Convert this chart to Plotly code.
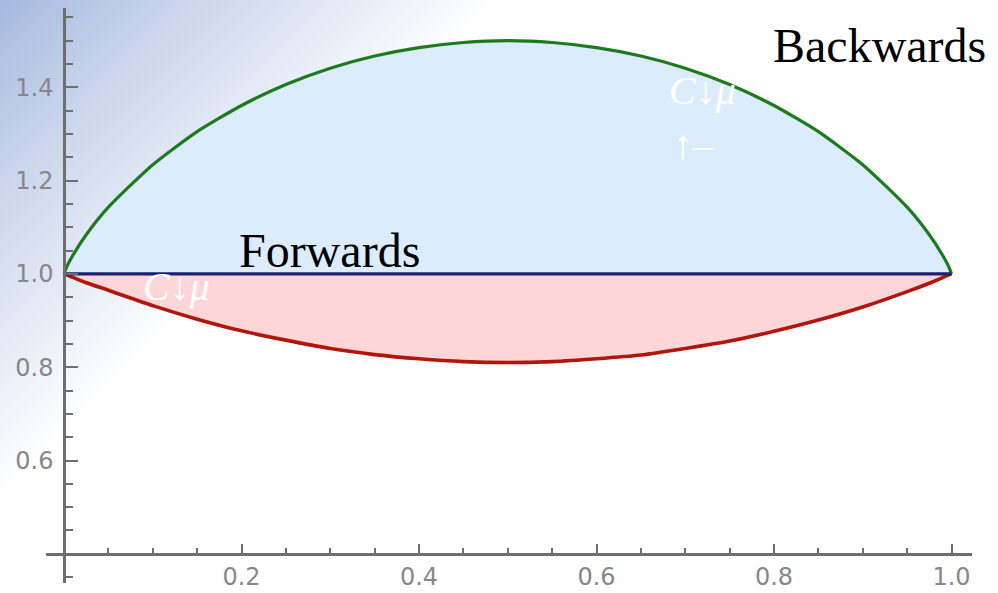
import base64
import plotly.graph_objects as go

# Sample points along the unit interval
x_vals = [0.0, 0.003, 0.01, 0.025, 0.05, 0.1, 0.15, 0.2, 0.25, 0.3, 0.35, 0.4, 0.45, 0.5,
          0.55, 0.6, 0.65, 0.7, 0.75, 0.8, 0.85, 0.9, 0.95, 0.975, 0.99, 0.997, 1.0]

# Upper (green) curve
backwards_y = [1.0, 1.015, 1.040, 1.084, 1.143, 1.234, 1.305, 1.361, 1.406, 1.441, 1.467, 1.485, 1.496, 1.500,
               1.496, 1.485, 1.467, 1.441, 1.406, 1.361, 1.305, 1.234, 1.143, 1.084, 1.040, 1.015, 1.0]

# Flat (navy) line
forwards_y = [1.0] * len(x_vals)

# Lower (red) curve
lower_y = [1.0, 0.998, 0.9925, 0.981, 0.965, 0.932, 0.903, 0.878, 0.858, 0.840, 0.827, 0.818, 0.812, 0.810,
           0.812, 0.818, 0.826, 0.840, 0.856, 0.877, 0.901, 0.929, 0.962, 0.980, 0.992, 0.998, 1.0]

x_tick_vals = [0.2, 0.4, 0.6, 0.8, 1.0]
x_tick_text = ["0.2", "0.4", "0.6", "0.8", "1.0"]
y_tick_vals = [0.6, 0.8, 1.0, 1.2, 1.4]
y_tick_text = ["0.6", "0.8", "1.0", "1.2", "1.4"]

W, H = 998, 593
ML, MR, MT, MB = 46, 26, 8, 10
PW, PH = W - ML - MR, H - MT - MB

XR = [-0.0203, 1.0231]
YR = [0.3374, 1.570]
X_CROSS, Y_CROSS = 0.0, 0.4

AX = "#6e6e6e"
TICKFONT = dict(family="DejaVu Sans", size=24, color="#888888")

GREEN = "#1e7a1e"
NAVY = "#1a2070"
RED = "#b0160c"
BLUE_FILL = "#dcecfc"
PINK_FILL = "#ffd6d8"

fig = go.Figure()

# light-blue region between the flat line and the upper curve
fig.add_trace(go.Scatter(x=x_vals, y=forwards_y, mode="lines", line=dict(width=0), hoverinfo="skip"))
fig.add_trace(go.Scatter(x=x_vals, y=backwards_y, mode="lines", fill="tonexty", fillcolor=BLUE_FILL,
                         line=dict(color=GREEN, width=3.2, shape="spline", smoothing=0.6), hoverinfo="skip"))

# pink region between the flat line and the lower curve
fig.add_trace(go.Scatter(x=x_vals, y=forwards_y, mode="lines", line=dict(width=0), hoverinfo="skip"))
fig.add_trace(go.Scatter(x=x_vals, y=lower_y, mode="lines", fill="tonexty", fillcolor=PINK_FILL,
                         line=dict(color=RED, width=3.6, shape="spline", smoothing=0.6), hoverinfo="skip"))

# flat line drawn on top
fig.add_trace(go.Scatter(x=x_vals, y=forwards_y, mode="lines", line=dict(color=NAVY, width=3.4), hoverinfo="skip"))

# page background: soft blue wash from the top-left corner
svg = (
    f'<svg xmlns="http://www.w3.org/2000/svg" width="{W}" height="{H}">'
    '<defs><linearGradient id="g" gradientUnits="userSpaceOnUse" x1="0" y1="0" x2="250" y2="250">'
    '<stop offset="0" stop-color="#a5bae0"/><stop offset="0.35" stop-color="#c8d4eb"/>'
    '<stop offset="0.7" stop-color="#e5ebf6"/><stop offset="1" stop-color="#ffffff"/>'
    '</linearGradient></defs>'
    f'<rect width="{W}" height="{H}" fill="url(#g)"/></svg>'
)
bg_src = "data:image/svg+xml;base64," + base64.b64encode(svg.encode()).decode()

fig.add_layout_image(dict(
    source=bg_src, xref="paper", yref="paper",
    x=-ML / PW, y=1 + MT / PH, sizex=W / PW, sizey=H / PH,
    xanchor="left", yanchor="top", sizing="stretch", layer="below",
))

serif = "Liberation Serif"
fig.add_annotation(x=0.919, y=1.489, text="Backwards", showarrow=False,
                   font=dict(family=serif, size=48, color="#000000"))
fig.add_annotation(x=0.2997, y=1.051, text="Forwards", showarrow=False,
                   font=dict(family=serif, size=48, color="#000000"))
fig.add_annotation(x=0.719, y=1.394, text="<i>C</i>↓<i>μ</i>", showarrow=False,
                   font=dict(family=serif, size=40, color="#ffffff"))
fig.add_annotation(x=0.709, y=1.2765, text="↑–", showarrow=False,
                   font=dict(family=serif, size=40, color="#ffffff"))
fig.add_annotation(x=0.127, y=0.972, text="<i>C</i>↓<i>μ</i>", showarrow=False,
                   font=dict(family=serif, size=40, color="#ffffff"))

x_pos = (Y_CROSS - YR[0]) / (YR[1] - YR[0])
y_pos = (X_CROSS - XR[0]) / (XR[1] - XR[0])

fig.update_layout(
    width=W, height=H,
    margin=dict(l=ML, r=MR, t=MT, b=MB, autoexpand=False),
    paper_bgcolor="#ffffff",
    plot_bgcolor="rgba(0,0,0,0)",
    showlegend=False,
    hovermode=False,
    xaxis=dict(
        range=XR, anchor="free", position=x_pos, automargin=False,
        showline=True, linecolor=AX, linewidth=2.6,
        showgrid=False, zeroline=False,
        tickmode="array", tickvals=x_tick_vals, ticktext=x_tick_text,
        ticks="inside", ticklen=9, tickwidth=2, tickcolor=AX,
        minor=dict(tickmode="linear", tick0=0, dtick=0.05, ticks="inside",
                   ticklen=5, tickwidth=2, tickcolor=AX, showgrid=False),
        tickfont=TICKFONT, ticklabelstandoff=1,
    ),
    yaxis=dict(
        range=YR, anchor="free", position=y_pos, automargin=False,
        showline=True, linecolor=AX, linewidth=2.6,
        showgrid=False, zeroline=False,
        tickmode="array", tickvals=y_tick_vals, ticktext=y_tick_text,
        ticks="inside", ticklen=12, tickwidth=2, tickcolor=AX,
        minor=dict(tickmode="linear", tick0=0, dtick=0.05, ticks="inside",
                   ticklen=7, tickwidth=2, tickcolor=AX, showgrid=False),
        tickfont=TICKFONT, ticklabelstandoff=5,
    ),
)

fig.write_html("out.html")
